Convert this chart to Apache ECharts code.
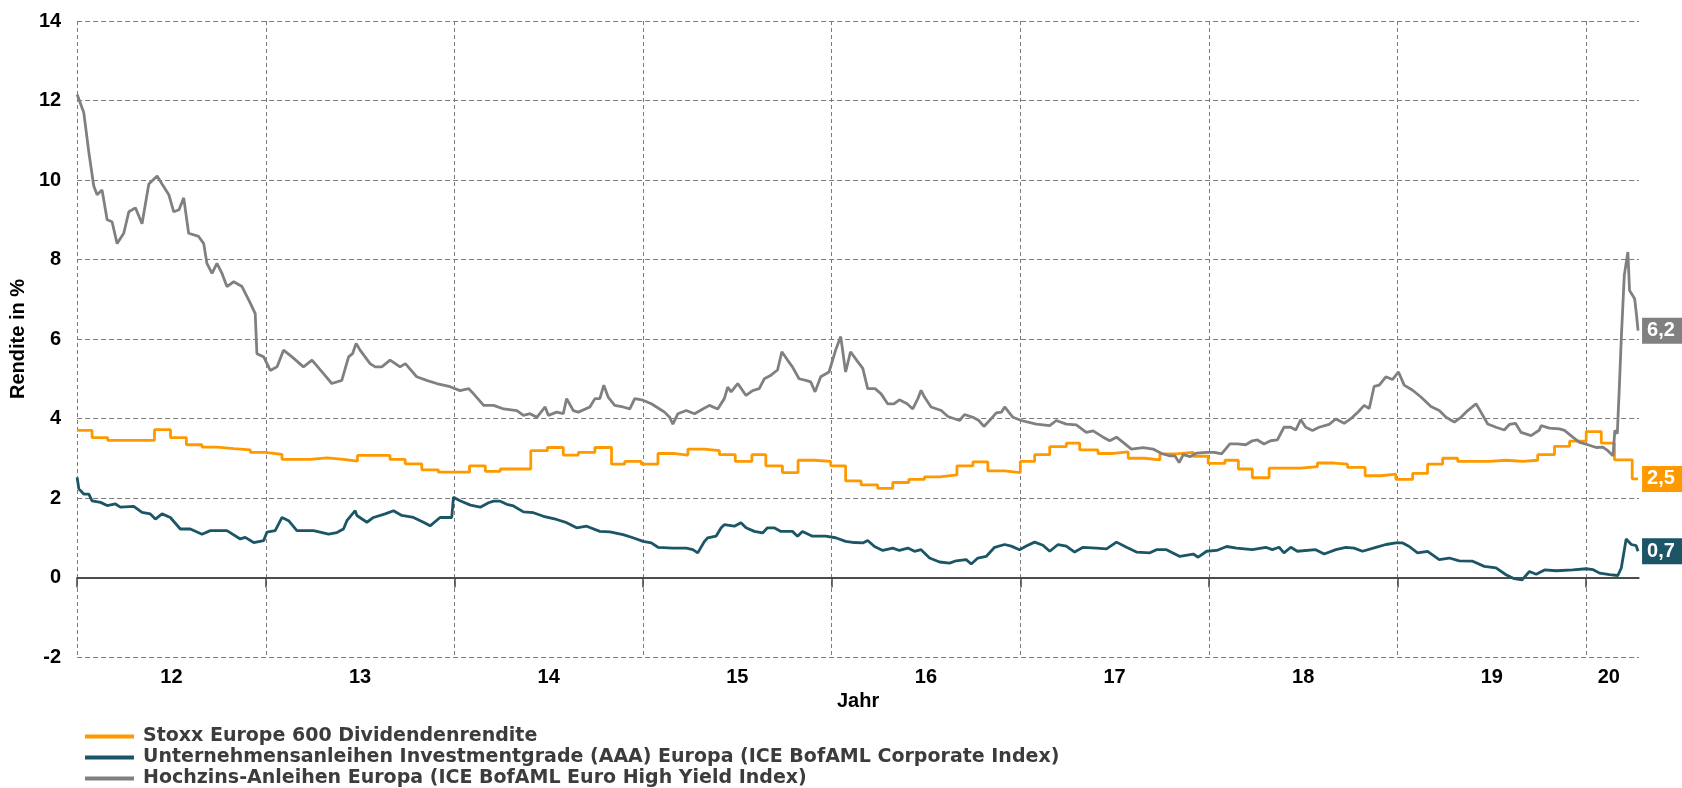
<!DOCTYPE html>
<html>
<head>
<meta charset="utf-8">
<script src="https://cdn.jsdelivr.net/npm/echarts@6/dist/echarts.min.js"></script>
<style>
  html, body { margin: 0; padding: 0; background: #fff; }
  #chart { width: 1682px; height: 788px; }
</style>
</head>
<body>
<div id="chart"></div>
<script>
// x values are decimal years (2012.5 = mid 2012)
const divYears = [2012.000, 2012.079, 2012.162, 2012.410, 2012.495, 2012.579, 2012.662, 2012.742, 2012.830, 2012.918,
  2012.998, 2013.086, 2013.236, 2013.324, 2013.412, 2013.486, 2013.659, 2013.739, 2013.827, 2013.915,
  2014.080, 2014.164, 2014.243, 2014.405, 2014.493, 2014.577, 2014.657, 2014.745, 2014.833, 2014.903,
  2014.991, 2015.079, 2015.158, 2015.238, 2015.326, 2015.405, 2015.489, 2015.577, 2015.651, 2015.739,
  2015.822, 2015.907, 2015.995, 2016.074, 2016.156, 2016.244, 2016.324, 2016.409, 2016.492, 2016.572,
  2016.664, 2016.749, 2016.828, 2016.917, 2017.000, 2017.076, 2017.156, 2017.244, 2017.315, 2017.412,
  2017.492, 2017.572, 2017.660, 2017.740, 2017.828, 2017.917, 2017.996, 2018.085, 2018.156, 2018.230,
  2018.319, 2018.487, 2018.575, 2018.664, 2018.735, 2018.828, 2018.912, 2018.991, 2019.080, 2019.159,
  2019.239, 2019.319, 2019.487, 2019.575, 2019.664, 2019.743, 2019.832, 2019.912, 2020.000, 2020.080,
  2020.150, 2020.244, 2020.275];
const divValues = [3.70, 3.52, 3.45, 3.72, 3.52, 3.34, 3.28, 3.24, 3.21, 3.15,
  3.10, 2.97, 3.01, 2.97, 2.93, 3.07, 2.97, 2.86, 2.71, 2.65,
  2.81, 2.67, 2.73, 3.19, 3.27, 3.08, 3.15, 3.27, 2.85, 2.92,
  2.85, 3.12, 3.08, 3.23, 3.19, 3.09, 2.92, 3.09, 2.81, 2.64,
  2.95, 2.92, 2.81, 2.43, 2.33, 2.24, 2.39, 2.47, 2.53, 2.58,
  2.81, 2.91, 2.68, 2.64, 2.92, 3.09, 3.29, 3.38, 3.21, 3.12,
  3.16, 3.00, 2.96, 3.11, 3.15, 3.05, 2.87, 2.95, 2.73, 2.51,
  2.75, 2.79, 2.88, 2.85, 2.77, 2.56, 2.60, 2.47, 2.62, 2.85,
  3.00, 2.92, 2.95, 2.92, 2.95, 3.09, 3.30, 3.43, 3.67, 3.38,
  2.96, 2.48, 2.48];

const igYears = [2012.000, 2012.009, 2012.035, 2012.062, 2012.079, 2012.124, 2012.159, 2012.203, 2012.229, 2012.300,
  2012.344, 2012.388, 2012.415, 2012.450, 2012.494, 2012.547, 2012.600, 2012.662, 2012.706, 2012.794,
  2012.865, 2012.891, 2012.936, 2012.989, 2013.006, 2013.050, 2013.086, 2013.121, 2013.165, 2013.253,
  2013.333, 2013.377, 2013.412, 2013.430, 2013.474, 2013.483, 2013.536, 2013.571, 2013.633, 2013.677,
  2013.721, 2013.783, 2013.836, 2013.871, 2013.924, 2013.986, 2013.995, 2014.030, 2014.085, 2014.137,
  2014.181, 2014.208, 2014.243, 2014.278, 2014.313, 2014.366, 2014.419, 2014.472, 2014.542, 2014.595,
  2014.648, 2014.701, 2014.771, 2014.824, 2014.894, 2014.947, 2015.000, 2015.044, 2015.079, 2015.158,
  2015.229, 2015.264, 2015.290, 2015.326, 2015.343, 2015.387, 2015.414, 2015.431, 2015.484, 2015.519,
  2015.546, 2015.590, 2015.634, 2015.660, 2015.695, 2015.731, 2015.792, 2015.819, 2015.845, 2015.898,
  2015.968, 2016.021, 2016.074, 2016.120, 2016.165, 2016.191, 2016.227, 2016.271, 2016.324, 2016.359,
  2016.404, 2016.439, 2016.474, 2016.519, 2016.572, 2016.625, 2016.660, 2016.713, 2016.740, 2016.775,
  2016.819, 2016.864, 2016.917, 2016.952, 2016.996, 2017.032, 2017.076, 2017.120, 2017.156, 2017.200,
  2017.244, 2017.288, 2017.333, 2017.404, 2017.457, 2017.510, 2017.563, 2017.616, 2017.687, 2017.722,
  2017.775, 2017.846, 2017.917, 2017.943, 2017.988, 2018.041, 2018.094, 2018.147, 2018.230, 2018.301,
  2018.336, 2018.372, 2018.398, 2018.434, 2018.469, 2018.566, 2018.611, 2018.673, 2018.726, 2018.770,
  2018.814, 2018.885, 2018.938, 2018.991, 2019.027, 2019.062, 2019.106, 2019.159, 2019.221, 2019.274,
  2019.327, 2019.398, 2019.460, 2019.522, 2019.575, 2019.619, 2019.660, 2019.699, 2019.735, 2019.779,
  2019.841, 2019.929, 2020.000, 2020.035, 2020.071, 2020.124, 2020.168, 2020.186, 2020.212, 2020.239,
  2020.265, 2020.275];
const igValues = [2.52, 2.23, 2.10, 2.10, 1.93, 1.89, 1.81, 1.85, 1.77, 1.79,
  1.64, 1.60, 1.47, 1.60, 1.51, 1.22, 1.22, 1.09, 1.18, 1.18,
  0.97, 1.01, 0.88, 0.93, 1.14, 1.18, 1.51, 1.43, 1.18, 1.18,
  1.09, 1.13, 1.22, 1.43, 1.68, 1.56, 1.39, 1.51, 1.60, 1.68,
  1.56, 1.51, 1.39, 1.30, 1.51, 1.51, 2.02, 1.93, 1.82, 1.77,
  1.88, 1.92, 1.92, 1.84, 1.80, 1.65, 1.63, 1.54, 1.46, 1.38,
  1.25, 1.29, 1.16, 1.15, 1.08, 1.00, 0.91, 0.87, 0.76, 0.74,
  0.74, 0.70, 0.62, 0.91, 1.00, 1.04, 1.25, 1.33, 1.29, 1.38,
  1.25, 1.16, 1.12, 1.25, 1.25, 1.16, 1.16, 1.04, 1.16, 1.04,
  1.04, 1.00, 0.91, 0.88, 0.87, 0.93, 0.78, 0.68, 0.74, 0.68,
  0.74, 0.66, 0.70, 0.49, 0.39, 0.36, 0.42, 0.45, 0.34, 0.49,
  0.53, 0.76, 0.83, 0.79, 0.70, 0.79, 0.89, 0.81, 0.66, 0.83,
  0.79, 0.64, 0.76, 0.74, 0.72, 0.89, 0.76, 0.64, 0.62, 0.70,
  0.70, 0.53, 0.59, 0.51, 0.66, 0.68, 0.78, 0.74, 0.70, 0.76,
  0.70, 0.76, 0.62, 0.76, 0.66, 0.70, 0.59, 0.70, 0.76, 0.74,
  0.66, 0.76, 0.83, 0.87, 0.87, 0.78, 0.62, 0.66, 0.45, 0.49,
  0.42, 0.41, 0.28, 0.24, 0.07, -0.03, -0.06, 0.15, 0.08, 0.19,
  0.17, 0.19, 0.22, 0.20, 0.11, 0.07, 0.05, 0.24, 0.97, 0.83,
  0.80, 0.66];

const hyYears = [2012.000, 2012.035, 2012.062, 2012.088, 2012.106, 2012.132, 2012.159, 2012.185, 2012.212, 2012.247,
  2012.274, 2012.309, 2012.344, 2012.380, 2012.424, 2012.450, 2012.486, 2012.512, 2012.540, 2012.565,
  2012.591, 2012.644, 2012.671, 2012.688, 2012.715, 2012.741, 2012.768, 2012.794, 2012.830, 2012.874,
  2012.918, 2012.944, 2012.953, 2012.989, 2013.024, 2013.060, 2013.094, 2013.139, 2013.200, 2013.245,
  2013.306, 2013.350, 2013.403, 2013.439, 2013.460, 2013.479, 2013.500, 2013.553, 2013.580, 2013.615,
  2013.659, 2013.712, 2013.740, 2013.800, 2013.853, 2013.906, 2013.977, 2014.030, 2014.076, 2014.102,
  2014.155, 2014.208, 2014.261, 2014.331, 2014.366, 2014.401, 2014.437, 2014.481, 2014.498, 2014.542,
  2014.577, 2014.595, 2014.630, 2014.657, 2014.718, 2014.745, 2014.771, 2014.792, 2014.815, 2014.850,
  2014.894, 2014.930, 2014.956, 2015.000, 2015.044, 2015.088, 2015.114, 2015.141, 2015.158, 2015.185,
  2015.229, 2015.273, 2015.317, 2015.352, 2015.396, 2015.431, 2015.449, 2015.467, 2015.502, 2015.546,
  2015.581, 2015.616, 2015.643, 2015.678, 2015.713, 2015.736, 2015.766, 2015.792, 2015.827, 2015.863,
  2015.889, 2015.912, 2015.942, 2015.986, 2016.021, 2016.048, 2016.074, 2016.100, 2016.138, 2016.165,
  2016.191, 2016.230, 2016.262, 2016.297, 2016.330, 2016.359, 2016.400, 2016.430, 2016.457, 2016.474,
  2016.492, 2016.527, 2016.581, 2016.616, 2016.678, 2016.704, 2016.749, 2016.780, 2016.807, 2016.837,
  2016.873, 2016.900, 2016.917, 2016.961, 2017.005, 2017.085, 2017.156, 2017.191, 2017.244, 2017.297,
  2017.350, 2017.386, 2017.439, 2017.474, 2017.510, 2017.545, 2017.589, 2017.651, 2017.704, 2017.749,
  2017.793, 2017.820, 2017.842, 2017.864, 2017.900, 2017.935, 2017.988, 2018.030, 2018.067, 2018.111,
  2018.150, 2018.195, 2018.230, 2018.257, 2018.292, 2018.327, 2018.363, 2018.398, 2018.434, 2018.460,
  2018.487, 2018.513, 2018.549, 2018.584, 2018.637, 2018.673, 2018.717, 2018.761, 2018.796, 2018.823,
  2018.850, 2018.876, 2018.903, 2018.938, 2018.973, 2019.005, 2019.035, 2019.080, 2019.124, 2019.177,
  2019.221, 2019.257, 2019.301, 2019.336, 2019.372, 2019.416, 2019.442, 2019.478, 2019.522, 2019.566,
  2019.593, 2019.625, 2019.655, 2019.708, 2019.752, 2019.761, 2019.805, 2019.858, 2019.885, 2019.929,
  2019.965, 2020.009, 2020.053, 2020.088, 2020.115, 2020.142, 2020.152, 2020.165, 2020.175, 2020.186,
  2020.202, 2020.221, 2020.230, 2020.257, 2020.266, 2020.275];
const hyValues = [12.15, 11.70, 10.70, 9.85, 9.63, 9.75, 9.00, 8.95, 8.40, 8.66,
  9.20, 9.30, 8.90, 9.90, 10.10, 9.90, 9.63, 9.20, 9.25, 9.55,
  8.66, 8.58, 8.40, 7.90, 7.65, 7.90, 7.65, 7.32, 7.44, 7.32,
  6.90, 6.64, 5.63, 5.55, 5.21, 5.30, 5.72, 5.55, 5.30, 5.47,
  5.13, 4.88, 4.96, 5.55, 5.63, 5.89, 5.72, 5.38, 5.30, 5.30,
  5.47, 5.30, 5.38, 5.05, 4.96, 4.88, 4.80, 4.70, 4.75, 4.62,
  4.33, 4.33, 4.24, 4.20, 4.08, 4.12, 4.03, 4.29, 4.08, 4.16,
  4.12, 4.50, 4.20, 4.16, 4.29, 4.50, 4.50, 4.84, 4.54, 4.33,
  4.29, 4.24, 4.50, 4.46, 4.37, 4.24, 4.16, 4.03, 3.86, 4.12,
  4.20, 4.12, 4.24, 4.33, 4.24, 4.50, 4.79, 4.67, 4.88, 4.58,
  4.70, 4.75, 5.00, 5.09, 5.22, 5.68, 5.47, 5.30, 5.00, 4.96,
  4.92, 4.67, 5.05, 5.17, 5.72, 6.06, 5.17, 5.68, 5.43, 5.26,
  4.75, 4.75, 4.62, 4.37, 4.37, 4.47, 4.37, 4.24, 4.50, 4.71,
  4.54, 4.29, 4.20, 4.05, 3.95, 4.10, 4.03, 3.95, 3.80, 3.95,
  4.14, 4.16, 4.29, 4.03, 3.95, 3.86, 3.82, 3.95, 3.86, 3.84,
  3.65, 3.69, 3.53, 3.44, 3.53, 3.40, 3.23, 3.27, 3.23, 3.12,
  3.06, 3.06, 2.89, 3.09, 3.04, 3.13, 3.15, 3.15, 3.11, 3.36,
  3.36, 3.34, 3.44, 3.46, 3.36, 3.44, 3.46, 3.78, 3.78, 3.71,
  3.97, 3.78, 3.70, 3.78, 3.85, 3.99, 3.88, 4.03, 4.19, 4.33,
  4.25, 4.81, 4.84, 5.05, 4.98, 5.17, 4.84, 4.71, 4.54, 4.30,
  4.20, 4.03, 3.91, 4.03, 4.20, 4.37, 4.16, 3.86, 3.78, 3.71,
  3.85, 3.88, 3.65, 3.57, 3.71, 3.82, 3.76, 3.74, 3.70, 3.53,
  3.40, 3.34, 3.27, 3.28, 3.19, 3.06, 3.70, 3.62, 4.70, 6.00,
  7.60, 8.19, 7.22, 7.01, 6.64, 6.21];

const yLabelValues = [-2, 0, 2, 4, 6, 8, 10, 12, 14];
const yGridValues = [-2, 2, 4, 6, 8, 10, 12, 14];
const xTickYears = [2012, 2013, 2014, 2015, 2016, 2017, 2018, 2019, 2020];
const xLabelYears = [2012.5, 2013.5, 2014.5, 2015.5, 2016.5, 2017.5, 2018.5, 2019.5, 2020.12];

const seriesNames = [
  'Stoxx Europe 600 Dividendenrendite',
  'Unternehmensanleihen Investmentgrade (AAA) Europa (ICE BofAML Corporate Index)',
  'Hochzins-Anleihen Europa (ICE BofAML Euro High Yield Index)'
];
const seriesColors = ['#ff9900', '#1b5566', '#808080'];

const axisFont = 'Liberation Sans, Arial, sans-serif';
const legendFont = 'DejaVu Sans, sans-serif';

function pairs(xs, ys) {
  return xs.map((x, i) => [x, ys[i]]);
}

function lineSeries(idx, data, extra) {
  const color = seriesColors[idx];
  return Object.assign({
    name: seriesNames[idx],
    type: 'line',
    data: data,
    showSymbol: false,
    symbol: 'none',
    itemStyle: { color: color },
    lineStyle: { color: color, width: 2.8 },
    endLabel: {
      show: true,
      distance: 4,
      formatter: p => p.value[1].toFixed(1).replace('.', ','),
      backgroundColor: color,
      color: '#fff',
      fontFamily: axisFont,
      fontWeight: 'bold',
      fontSize: 20,
      lineHeight: 20,
      padding: [3, 8, 3, 5]
    }
  }, extra || {});
}

const chart = echarts.init(document.getElementById('chart'));
chart.setOption({
  animation: false,
  backgroundColor: '#fff',
  grid: { left: 76, right: 43, top: 21, bottom: 131 },
  legend: {
    orient: 'vertical',
    left: 85,
    top: 726,
    height: 80,
    padding: 0,
    itemGap: 0,
    itemWidth: 49,
    itemHeight: 4,
    icon: 'rect',
    data: seriesNames,
    textStyle: {
      fontFamily: legendFont,
      fontWeight: 'bold',
      fontSize: 19,
      lineHeight: 21,
      color: '#3c3c3c',
      padding: [0, 0, 0, 4]
    }
  },
  xAxis: {
    type: 'value',
    min: 2012,
    max: 2020.28,
    interval: 1,
    name: 'Jahr',
    nameLocation: 'middle',
    nameGap: 23,
    nameTextStyle: { fontFamily: axisFont, fontWeight: 'bold', fontSize: 20, color: '#000' },
    axisLine: { show: true, lineStyle: { color: '#444', width: 1.5 } },
    axisTick: { show: true, length: 10, customValues: xTickYears, lineStyle: { color: '#444', width: 1.5 } },
    axisLabel: {
      customValues: xLabelYears,
      margin: 10,
      formatter: v => String(Math.floor(v)).slice(2),
      fontFamily: axisFont,
      fontWeight: 'bold',
      fontSize: 20,
      color: '#000'
    },
    splitLine: { show: true, lineStyle: { color: '#7a7a7a', width: 1, type: [4, 3] } }
  },
  yAxis: [{
    type: 'value',
    min: -2,
    max: 14,
    interval: 2,
    name: 'Rendite in %',
    nameLocation: 'middle',
    nameGap: 44,
    nameRotate: 90,
    nameTextStyle: { fontFamily: axisFont, fontWeight: 'bold', fontSize: 20, color: '#000' },
    axisLine: { show: false },
    axisTick: { show: false, customValues: yGridValues },
    axisLabel: {
      customValues: yLabelValues,
      margin: 16,
      fontFamily: axisFont,
      fontWeight: 'bold',
      fontSize: 20,
      color: '#000'
    },
    splitLine: { show: true, lineStyle: { color: '#7a7a7a', width: 1.2, type: [5, 3] } }
  }, {
    // solid zero line
    type: 'value',
    min: -2,
    max: 14,
    position: 'left',
    axisLine: { show: false },
    axisTick: { show: false, customValues: [0] },
    axisLabel: { show: false },
    splitLine: { show: true, lineStyle: { color: '#333', width: 1.6, type: 'solid' } }
  }],
  series: [
    lineSeries(0, pairs(divYears, divValues), { step: 'end' }),
    lineSeries(1, pairs(igYears, igValues)),
    lineSeries(2, pairs(hyYears, hyValues))
  ]
});
</script>
</body>
</html>
